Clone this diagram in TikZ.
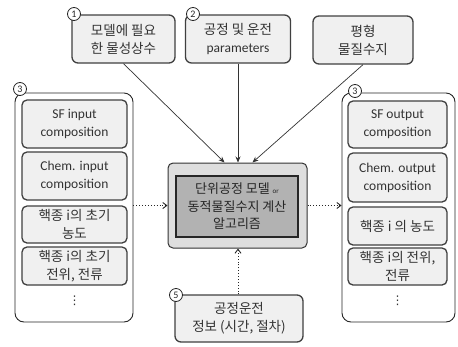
\documentclass[tikz,border=0pt]{standalone}
\usepackage{fontspec}
\setmainfont{Carlito}
\newfontfamily\kr{Noto Sans CJK KR}
\newfontfamily\sym{DejaVu Sans}
\usetikzlibrary{arrows.meta, positioning, calc}

\begin{document}
\begin{tikzpicture}[
  x=1pt, y=-1pt,
  topbox/.style={rectangle, rounded corners=6pt, draw=black!75, fill=black!6, line width=1.3pt,
                 align=center, text=black!80, inner sep=2pt, font=\fontsize{13.5}{18}\selectfont},
  panel/.style={rectangle, rounded corners=9pt, draw=black!85, fill=white, line width=0.9pt},
  itembox/.style={rectangle, rounded corners=5pt, draw=black!75, fill=black!6, line width=1.3pt,
                  align=center, text=black!80, inner sep=1pt, font=\fontsize{13.5}{18}\selectfont},
  numc/.style={circle, draw=black!85, fill=white, line width=0.8pt, inner sep=0pt,
               minimum size=13pt, text=black!85, font=\fontsize{10}{10}\selectfont},
  feed/.style={draw=black!80, line width=0.7pt, -{Stealth[length=6pt, width=5pt]}},
  dotarr/.style={draw=black!85, line width=0.9pt, dotted, -{Straight Barb[length=4pt, width=6pt]}}
]
\useasboundingbox (0,0) rectangle (458,346);

% Top inputs
\node[topbox, minimum width=103pt, minimum height=48pt] (phys) at (123.5,39)
  {\kr 모델에 필요\\\kr 한 물성상수};
\node[topbox, minimum width=105pt, minimum height=48pt] (param) at (238,39)
  {\kr 공정 및 운전\\parameters};
\node[topbox, minimum width=100pt, minimum height=48pt] (equil) at (363,40)
  {\kr 평형\\\kr 물질수지};
\node[numc] (n1) at (74,14) {1};
\node[numc] (n2) at (193,14) {2};

% Input panel (left)
\node[panel, minimum width=118pt, minimum height=229pt] (inpanel) at (74,207.5) {};
\node[itembox, minimum width=105pt, minimum height=48pt] (in1) at (74.5,124) {SF input\\composition};
\node[itembox, minimum width=105pt, minimum height=48pt] (in2) at (74.5,176) {Chem. input\\composition};
\node[itembox, minimum width=105pt, minimum height=37pt] (in3) at (74.5,224.5) {\kr 핵종 i의 초기\\\kr 농도};
\node[itembox, minimum width=105pt, minimum height=38pt] (in4) at (74.5,266) {\kr 핵종 i의 초기\\\kr 전위, 전류};
\node[text=black!80, font=\sym\fontsize{12}{12}\selectfont] (indots) at (74.5,301) {⋮};
\node[numc] (n3a) at (20,89) {3};

% Output panel (right)
\node[panel, minimum width=113pt, minimum height=229pt] (outpanel) at (398.5,207.5) {};
\node[itembox, minimum width=99pt, minimum height=47pt] (out1) at (397.5,124.5) {SF output\\composition};
\node[itembox, minimum width=99pt, minimum height=49pt] (out2) at (397.5,177.5) {Chem. output\\composition};
\node[itembox, minimum width=99pt, minimum height=38pt] (out3) at (397.5,226) {\kr 핵종 i 의 농도};
\node[itembox, minimum width=99pt, minimum height=37pt] (out4) at (397.5,266.5) {\kr 핵종 i의 전위,\\\kr 전류};
\node[text=black!80, font=\sym\fontsize{12}{12}\selectfont] (outdots) at (397.5,301) {⋮};
\node[numc] (n3b) at (355,91) {3};

% Core algorithm
\node[rectangle, rounded corners=5pt, draw=black!80, fill=black!13, line width=1pt,
      minimum width=139pt, minimum height=85pt] (core) at (237.5,205.5) {};
\node[rectangle, draw=black!85, fill=black!30, line width=1.8pt, align=center, text=black!85,
      minimum width=122pt, minimum height=61pt, font=\fontsize{13}{17.5}\selectfont] (coreIn) at (237,206.5)
  {\kr 단위공정 모델 {\rmfamily\fontsize{7}{7}\selectfont or}\\\kr 동적물질수지 계산\\\kr 알고리즘};

% Operating info
\node[topbox, minimum width=128pt, minimum height=47pt] (info) at (239,318.5)
  {\kr 공정운전\\\kr 정보 (시간, 절차)};
\node[numc] (n5) at (176,295) {5};

% Connectors
\coordinate (hitL) at ($(core.north)+(-13,0)$);
\coordinate (hitR) at ($(core.north)+(15,0)$);
\draw[feed] (phys.south) -- (hitL);
\draw[feed] (param.south) -- (param.south |- core.north);
\draw[feed] (equil.south) -- (hitR);
\draw[dotarr] (core.west -| inpanel.east) -- (core.west);
\draw[dotarr] (core.east) -- (core.east -| outpanel.west);
\draw[dotarr] (info.north -| param.south) -- (core.south -| param.south);

\end{tikzpicture}
\end{document}
